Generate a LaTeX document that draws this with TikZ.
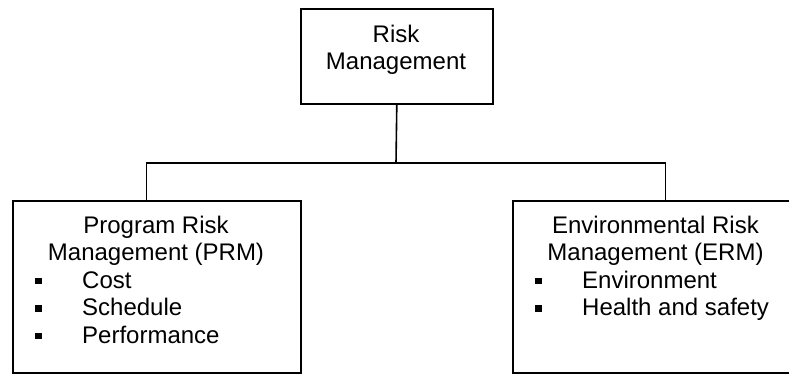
\documentclass[tikz,border=0pt]{standalone}
\usepackage{fontspec}
\setmainfont{Liberation Sans}
\begin{document}
\begin{tikzpicture}[x=1pt,y=-1pt,
  box/.style={draw=black, line width=1.6pt, rectangle, inner sep=0pt, anchor=north west},
  boxtext/.style={font=\fontsize{24}{28}\selectfont, inner sep=0pt, anchor=base},
  itemtext/.style={boxtext, anchor=base west},
  sq/.style={fill=black, rectangle, inner sep=0pt, minimum size=6.5pt},
  link/.style={line width=1.6pt}]
\useasboundingbox (0,0) rectangle (789,373);

% boxes
\node[box, minimum width=192pt, minimum height=95pt] (rm) at (300,8) {};
\node[box, minimum width=288pt, minimum height=172pt] (prm) at (12,200) {};
\node[box, minimum width=287pt, minimum height=172pt] (erm) at (512,200) {};

% top box title
\node[boxtext] (rmA) at (396,42) {Risk};
\node[boxtext] (rmB) at (396,69.5) {Management};

% program risk management
\node[boxtext] (prmA) at (156,233) {Program Risk};
\node[boxtext] (prmB) at (156,260.5) {Management (PRM)};
\node[sq] (pb1) at (38.5,281) {};
\node[sq] (pb2) at (38.5,308.5) {};
\node[sq] (pb3) at (38.5,336) {};
\node[itemtext] (pi1) at (82,288) {Cost};
\node[itemtext] (pi2) at (82,315.5) {Schedule};
\node[itemtext] (pi3) at (82,343) {Performance};

% environmental risk management
\node[boxtext] (ermA) at (655.5,233) {Environmental Risk};
\node[boxtext] (ermB) at (655.5,260.5) {Management (ERM)};
\node[sq] (eb1) at (538.5,281) {};
\node[sq] (eb2) at (538.5,308.5) {};
\node[itemtext] (ei1) at (582,288) {Environment};
\node[itemtext] (ei2) at (582,315.5) {Health and safety};

% connectors
\coordinate (hub) at (396,163);
\coordinate (lb) at (146.5,163);
\coordinate (rb) at (665.5,163);
\draw[link] (rm.south) -- (hub);
\draw[link] (lb |- prm.north) -- (lb) -- (rb) -- (rb |- erm.north);
\end{tikzpicture}
\end{document}
